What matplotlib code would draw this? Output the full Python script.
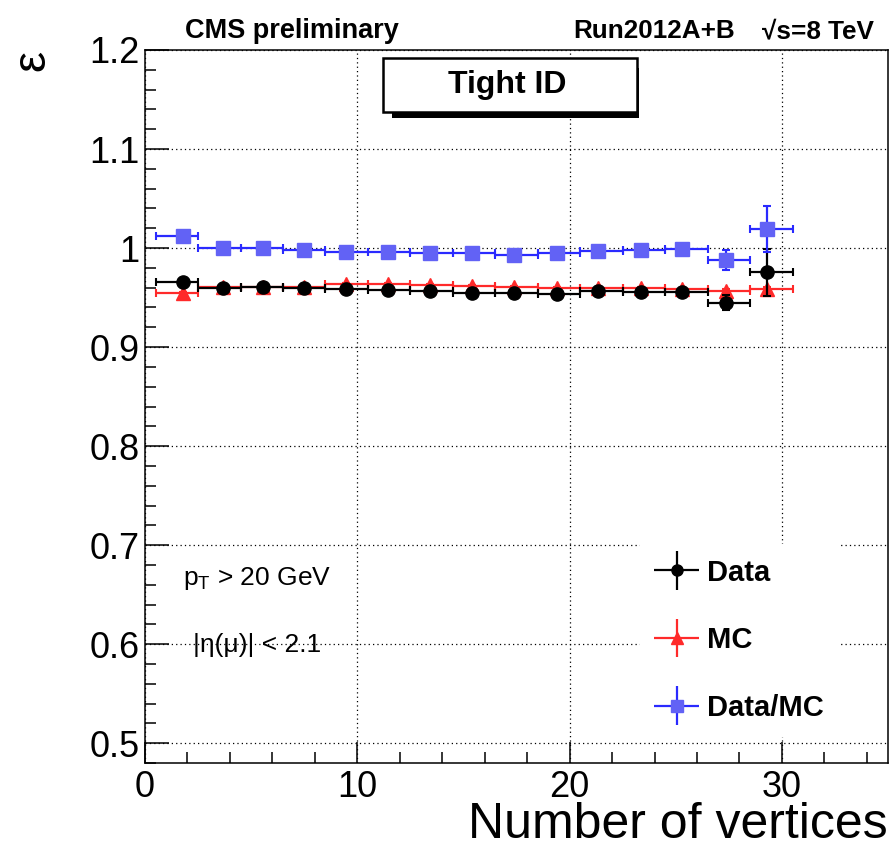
import matplotlib
matplotlib.use("Agg")
import matplotlib.pyplot as plt
import numpy as np
from matplotlib.ticker import MultipleLocator, FuncFormatter
from matplotlib.legend_handler import HandlerErrorbar
from matplotlib.patches import Rectangle

plt.rcParams['font.family'] = ['Liberation Sans', 'DejaVu Sans']
plt.rcParams['mathtext.fontset'] = 'custom'
plt.rcParams['mathtext.rm'] = 'Liberation Sans'
plt.rcParams['mathtext.it'] = 'Liberation Sans'
plt.rcParams['mathtext.bf'] = 'Liberation Sans:bold'

# vertex bins: edges and mean number of vertices in each bin
bin_edges = [0.5, 2.5, 4.5, 6.5, 8.5, 10.5, 12.5, 14.5, 16.5, 18.5, 20.5, 22.5, 24.5, 26.5, 28.5, 30.5]
nvtx_mean = [1.8, 3.65, 5.55, 7.5, 9.45, 11.45, 13.4, 15.4, 17.4, 19.4, 21.35, 23.35, 25.3, 27.35, 29.3]

# tight muon ID efficiency
eff_data = [0.966, 0.9596, 0.961, 0.9596, 0.9586, 0.958, 0.9562, 0.9546, 0.9546, 0.9536,
            0.957, 0.956, 0.956, 0.945, 0.9754]
err_data = [0.003, 0.002, 0.0015, 0.0015, 0.0015, 0.0015, 0.0015, 0.0015, 0.002, 0.002,
            0.002, 0.003, 0.004, 0.008, 0.024]
eff_mc = [0.955, 0.9603, 0.9603, 0.9603, 0.9637, 0.9637, 0.963, 0.962, 0.9605, 0.9596,
          0.960, 0.9596, 0.9586, 0.957, 0.9586]
err_mc = [0.001, 0.001, 0.001, 0.001, 0.001, 0.001, 0.001, 0.001, 0.001, 0.001,
          0.001, 0.001, 0.001, 0.0015, 0.002]
ratio = [1.0124, 1.0, 1.0, 0.998, 0.996, 0.996, 0.995, 0.995, 0.993, 0.995,
         0.9966, 0.998, 0.999, 0.988, 1.019]
err_ratio = [0.003, 0.002, 0.002, 0.002, 0.002, 0.002, 0.002, 0.002, 0.002, 0.002,
             0.002, 0.003, 0.004, 0.010, 0.023]

x = np.array(nvtx_mean)
edges = np.array(bin_edges)
xerr = [x - edges[:-1], edges[1:] - x]

fig = plt.figure(figsize=(8.92, 8.56), dpi=100)
ax = fig.add_axes([0.1626, 0.1086, 0.8330, 0.8330])

styles = dict(capsize=3, capthick=1.5, elinewidth=1.6, linestyle='none')
ax.errorbar(x, eff_mc, xerr=xerr, yerr=err_mc, marker='^', markersize=10,
            color='#ff2a2a', zorder=3, **styles)
ax.errorbar(x, eff_data, xerr=xerr, yerr=err_data, marker='o', markersize=9.5,
            color='black', zorder=4, **styles)
ax.errorbar(x, ratio, xerr=xerr, yerr=err_ratio, marker='s', markersize=10,
            color='#2a2aff', mfc='#6262f5', mec='#6262f5', zorder=5, **styles)

ax.set_xlim(0, 35)
ax.set_ylim(0.48, 1.2)
ax.xaxis.set_major_locator(MultipleLocator(10))
ax.xaxis.set_minor_locator(MultipleLocator(2))
ax.yaxis.set_major_locator(MultipleLocator(0.1))
ax.yaxis.set_minor_locator(MultipleLocator(0.02))
ax.yaxis.set_major_formatter(FuncFormatter(lambda v, p: '%g' % round(v, 2)))
ax.tick_params(which='both', direction='in', top=False, right=False, width=1.1)
ax.tick_params(axis='x', which='major', length=15, labelsize=26, pad=5)
ax.tick_params(axis='y', which='major', length=17, labelsize=26, pad=4)
ax.tick_params(which='minor', length=8)
for s in ax.spines.values():
    s.set_linewidth(1.1)
ax.grid(True, which='major', linestyle=(0, (1, 2.5)), color='black', linewidth=0.9)
ax.set_axisbelow(True)

ax.set_xlabel('Number of vertices', fontsize=36, loc='right')
ax.xaxis.set_label_coords(1.0, -0.055)
ax.text(-0.152, 0.985, 'ε', transform=ax.transAxes, rotation=90, fontsize=34,
        ha='center', va='center')

# header
fig.text(0.2074, 0.9556, 'CMS preliminary', fontsize=19.5, fontweight='bold')
fig.text(0.6424, 0.9556, 'Run2012A+B', fontsize=18.8, fontweight='bold')
fig.text(0.8540, 0.9556, '√s=8 TeV', fontsize=18.8, fontweight='bold')

# label box with shadow
ax.add_patch(Rectangle((0.3324, 0.9046), 0.3325, 0.0702, transform=ax.transAxes,
                       facecolor='black', edgecolor='none', zorder=8, clip_on=False))
ax.add_patch(Rectangle((0.3203, 0.9130), 0.3419, 0.0758, transform=ax.transAxes,
                       facecolor='white', edgecolor='black', linewidth=1.8, zorder=9,
                       clip_on=False))
ax.text(0.488, 0.951, 'Tight ID', transform=ax.transAxes, fontsize=23,
        fontweight='bold', ha='center', va='center', zorder=10)

# selection
ax.text(0.0505, 0.249, r'$\mathrm{p_{T}}$ > 20 GeV', transform=ax.transAxes, fontsize=19)
ax.text(0.0645, 0.156, '|η(μ)| < 2.1', transform=ax.transAxes, fontsize=19)

# legend proxies without caps
h_data = ax.errorbar([np.nan], [np.nan], xerr=[1], yerr=[1], marker='o', markersize=8,
                     color='black', elinewidth=1.6, linestyle='none', label='Data')
h_mc = ax.errorbar([np.nan], [np.nan], xerr=[1], yerr=[1], marker='^', markersize=9,
                   color='#ff2a2a', elinewidth=1.6, linestyle='none', label='MC')
h_ratio = ax.errorbar([np.nan], [np.nan], xerr=[1], yerr=[1], marker='s', markersize=8,
                      color='#2a2aff', mfc='#6262f5', mec='#6262f5', elinewidth=1.6,
                      linestyle='none', label='Data/MC')
leg = ax.legend(handles=[h_data, h_mc, h_ratio], loc='upper left',
                bbox_to_anchor=((640 - 145) / 743, (763 - 544) / 713),
                prop={'weight': 'bold', 'size': 21}, frameon=True, fancybox=False,
                facecolor='white', edgecolor='none', framealpha=1,
                borderpad=0.5, borderaxespad=0, labelspacing=1.36, handlelength=1.5,
                handletextpad=0.3, numpoints=1,
                handler_map={type(h_data): HandlerErrorbar(xerr_size=0.76, yerr_size=0.66)})
leg.set_zorder(7)

fig.savefig('out.png', dpi=100)
